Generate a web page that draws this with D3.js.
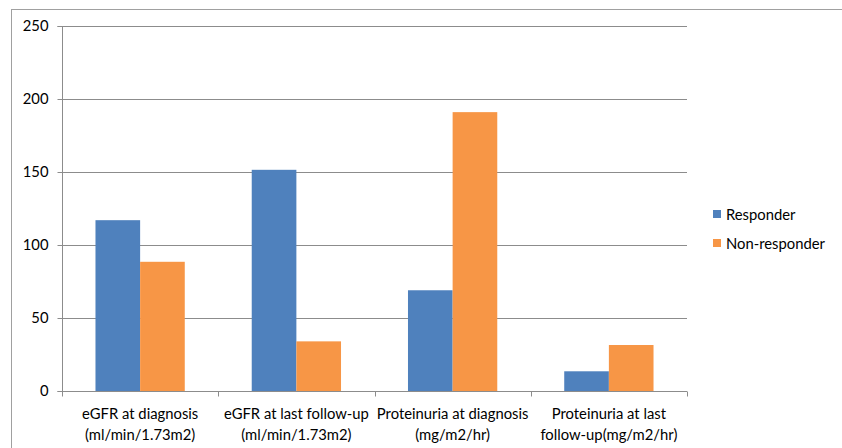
<!DOCTYPE html>
<html><head><meta charset="utf-8">
<script src="https://cdn.jsdelivr.net/npm/d3@7"></script>
<style>body{margin:0;background:#fff}text{font-family:Lato,"Open Sans",sans-serif;fill:#000}</style>
</head><body><svg id="c" width="842" height="448"></svg>
<script>
const categories = [
  ["eGFR at diagnosis", "(ml/min/1.73m2)"],
  ["eGFR at last follow-up", "(ml/min/1.73m2)"],
  ["Proteinuria at diagnosis", "(mg/m2/hr)"],
  ["Proteinuria at last", "follow-up(mg/m2/hr)"]
];
const seriesNames = ["Responder", "Non-responder"];
const responder = [117, 151.5, 69, 13.5];
const nonResponder = [88.5, 34, 191, 31.5];
const yTicks = [0, 50, 100, 150, 200, 250];
const colors = ["#4F81BD", "#F79646"];
const FS = 14.8;

const svg = d3.select("#c");
svg.append("rect").attr("x", 11.5).attr("y", 9.5).attr("width", 900).attr("height", 500)
  .attr("fill", "#fff").attr("stroke", "#a0a0a0").attr("stroke-width", 1);

const pL = 62, pR = 687, pT = 26, pB = 391;
const y = d3.scaleLinear().domain([0, 250]).range([pB, pT]);
const x0 = d3.scaleBand().domain(d3.range(categories.length)).range([pL, pR]).paddingInner(0).paddingOuter(0);
const bw = x0.bandwidth() / 3.5;
const x1 = d3.scaleBand().domain([0, 1]).range([bw * 0.75, bw * 2.75]);

// gridlines
svg.append("g").selectAll("line").data(yTicks.filter(d => d > 0)).join("line")
  .attr("x1", pL).attr("x2", pR).attr("y1", d => Math.round(y(d)) + 0.5).attr("y2", d => Math.round(y(d)) + 0.5)
  .attr("stroke", "#8c8c8c").attr("stroke-width", 1);

// bars
const data = categories.map((c, i) => [responder[i], nonResponder[i]]);
const g = svg.append("g");
data.forEach((vals, i) => {
  g.selectAll(null).data(vals).join("rect")
    .attr("x", (d, j) => x0(i) + x1(j))
    .attr("y", d => y(d))
    .attr("width", x1.bandwidth())
    .attr("height", d => pB - y(d))
    .attr("fill", (d, j) => colors[j]);
});

// y axis
const ya = svg.append("g").attr("transform", `translate(${pL + 0.5},0)`)
  .call(d3.axisLeft(y).tickValues(yTicks).tickSize(5).tickPadding(9).tickFormat(d3.format("d")));
ya.select(".domain").attr("stroke", "#8c8c8c").attr("d", `M-5,${y(250)+0.5}H0V${pB+0.5}H-5`);
ya.selectAll(".tick line").attr("stroke", "#8c8c8c");
ya.selectAll(".tick text").attr("font-size", FS).attr("font-family", "Lato").attr("fill", "#000");
ya.selectAll(".tick").attr("transform", d => `translate(0,${Math.round(y(d)) + 0.5})`);

// x axis
const xa = svg.append("g").attr("transform", `translate(0,${pB + 0.5})`);
xa.append("line").attr("x1", pL).attr("x2", pR).attr("stroke", "#8c8c8c");
xa.selectAll("line.t").data(d3.range(categories.length + 1)).join("line").attr("class", "t")
  .attr("x1", d => Math.round(pL + d * x0.bandwidth()) + 0.5).attr("x2", d => Math.round(pL + d * x0.bandwidth()) + 0.5)
  .attr("y1", 0).attr("y2", 5).attr("stroke", "#8c8c8c");
categories.forEach((c, i) => {
  const t = xa.append("text").attr("text-anchor", "middle").attr("font-size", FS)
    .attr("x", x0(i) + x0.bandwidth() / 2);
  c.forEach((line, k) => t.append("tspan").attr("x", x0(i) + x0.bandwidth() / 2).attr("y", 27 + k * 21).text(line));
});

// legend
const lg = svg.append("g").attr("transform", "translate(713,210)");
seriesNames.forEach((s, i) => {
  lg.append("rect").attr("x", 0).attr("y", i * 29).attr("width", 8).attr("height", 8).attr("fill", colors[i]);
  lg.append("text").attr("x", 13).attr("y", i * 29 + 9.5).attr("font-size", FS).text(s);
});
</script></body></html>
